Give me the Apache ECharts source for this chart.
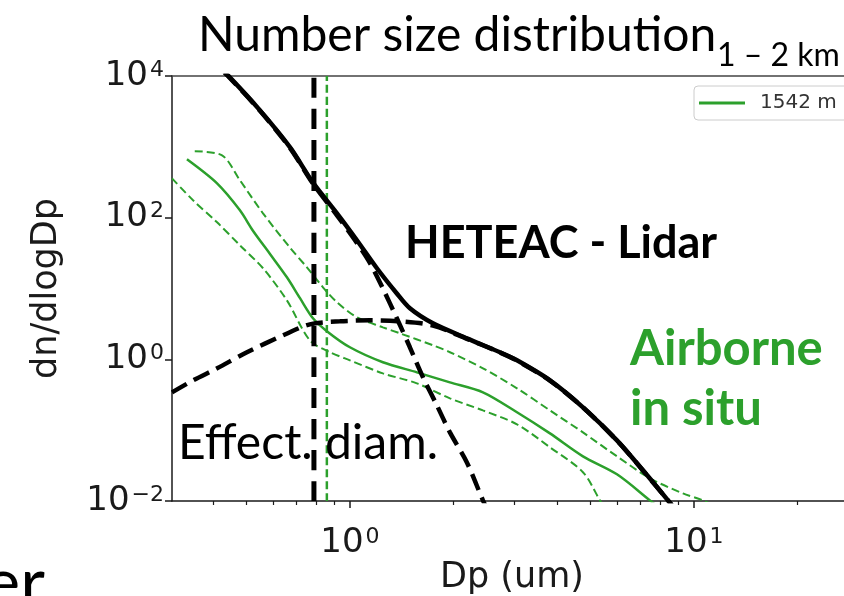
<!DOCTYPE html>
<html>
<head>
<meta charset="utf-8">
<script src="https://cdn.jsdelivr.net/npm/echarts@6/dist/echarts.min.js"></script>
<style>
  html, body { margin: 0; padding: 0; background: #ffffff; }
  #chart { width: 844px; height: 596px; }
</style>
</head>
<body>
<div id="chart"></div>
<script>
// Particle diameter Dp (um) and dn/dlogDp pairs for each curve

// Lidar-retrieved (HETEAC) total size distribution
const lidarTotalDp  = [0.304, 0.366, 0.442, 0.547, 0.67, 0.78, 0.917, 1.048, 1.198, 1.369, 1.494, 1.743, 2.188, 2.729, 3.059, 3.815, 4.757, 5.973, 7.108, 8.404, 9.1];
const lidarTotalVal = [65000, 25400, 10200, 3300, 984, 315, 115, 48, 19.3, 8.5, 5.25, 3.22, 1.98, 1.26, 0.968, 0.505, 0.21, 0.0718, 0.0271, 0.0102, 0.0063];

// Fine mode
const lidarFineDp  = [0.304, 0.366, 0.442, 0.547, 0.67, 0.78, 0.917, 1.048, 1.143, 1.247, 1.369, 1.494, 1.63, 1.79, 1.953, 2.188, 2.436, 2.553];
const lidarFineVal = [64000, 25000, 10000, 3250, 960, 305, 108, 44, 23, 10, 3.8, 1.48, 0.56, 0.224, 0.093, 0.035, 0.0102, 0.0063];

// Coarse mode
const lidarCoarseDp  = [0.304, 0.35, 0.411, 0.502, 0.639, 0.765, 0.935, 1.143, 1.397, 1.743, 2.188, 2.729, 3.059, 3.815, 4.757, 5.973, 7.108, 8.404, 9.1];
const lidarCoarseVal = [0.342, 0.505, 0.746, 1.26, 2.18, 3.12, 3.44, 3.55, 3.44, 3.0, 1.95, 1.25, 0.96, 0.5, 0.21, 0.0715, 0.027, 0.0102, 0.0063];

// Airborne in situ, 1542 m: median and spread
const insituDp  = [0.336, 0.411, 0.479, 0.522, 0.585, 0.656, 0.716, 0.781, 0.857, 1.0, 1.247, 1.566, 1.953, 2.436, 3.059, 3.815, 4.757, 5.973, 7.449, 8.24];
const insituVal = [667, 305, 127, 66, 31, 14.4, 7.3, 3.8, 2.5, 1.48, 0.91, 0.655, 0.473, 0.342, 0.179, 0.090, 0.0427, 0.0238, 0.0102, 0.0069];

const insituHighDp  = [0.354, 0.425, 0.479, 0.559, 0.669, 0.75, 0.835, 0.917, 1.048, 1.247, 1.397, 1.743, 1.953, 2.436, 3.059, 3.815, 4.757, 5.973, 7.449, 9.291, 10.62, 11.51];
const insituHighVal = [864, 759, 337, 115, 38, 19.9, 10.4, 6.4, 3.92, 2.83, 2.33, 1.58, 1.26, 0.746, 0.39, 0.19, 0.093, 0.0427, 0.0209, 0.0128, 0.0102, 0.0084];

const insituLowDp  = [0.304, 0.35, 0.411, 0.479, 0.559, 0.656, 0.765, 0.875, 1.0, 1.247, 1.566, 1.953, 2.436, 3.059, 3.815, 4.757, 5.33, 5.6];
const insituLowVal = [359, 176, 86, 40.7, 19.3, 6.8, 1.85, 1.26, 0.968, 0.634, 0.458, 0.281, 0.19, 0.121, 0.0573, 0.0255, 0.0102, 0.0068];

// Effective diameters
const effDiamLidar  = 0.786;
const effDiamInsitu = 0.857;

// Axis ranges and tick values
const xRange = [0.304, 28.8];
const yRange = [0.01, 10000];
const xMajorTicks = [1, 10];
const xMinorTicks = [0.4, 0.5, 0.6, 0.7, 0.8, 0.9, 2, 3, 4, 5, 6, 7, 8, 9, 20];
const yMajorTicks = [0.01, 1, 100, 10000];

const GREEN = '#2ca02c';
const AX = '#1a1a1a';

function pairs(xs, ys) { return xs.map((x, i) => [x, ys[i]]); }
function powLabel(v) {
  const e = Math.round(Math.log10(v));
  const s = e < 0 ? '\u2212' + (-e) : String(e);
  return '{b|10}{s|' + s + '}';
}
const richTick = {
  b: { fontFamily: 'DejaVu Sans', fontSize: 34, lineHeight: 34, color: AX },
  s: { fontFamily: 'DejaVu Sans', fontSize: 22, lineHeight: 15, color: AX, verticalAlign: 'top', padding: [0, 0, 0, 2] }
};

function lineSeries(name, data, color, width, dash, z) {
  return {
    name: name, type: 'line', data: data, xAxisIndex: 0, yAxisIndex: 0,
    symbol: 'none', showSymbol: false, smooth: 0.3, silent: true, z: z,
    lineStyle: { color: color, width: width, type: dash || 'solid', cap: 'butt' },
    itemStyle: { color: color }
  };
}

function txt(text, x, y, font, fill, align) {
  return {
    type: 'text', z: 100, silent: true,
    style: { text: text, x: x, y: y, font: font, fill: fill,
             align: align || 'left', textAlign: align || 'left',
             verticalAlign: 'middle', textVerticalAlign: 'middle' }
  };
}

const chart = echarts.init(document.getElementById('chart'), null, { renderer: 'canvas' });

chart.setOption({
  animation: false,
  backgroundColor: '#ffffff',
  grid: { left: 172, top: 76, right: -8, bottom: 95, containLabel: false, outerBoundsMode: 'none' },
  legend: {
    data: [{ name: '1542 m', icon: 'rect' }],
    left: 694, top: 86, itemWidth: 46, itemHeight: 3,
    padding: [7, 14, 7, 5], borderColor: '#cccccc', borderWidth: 1, borderRadius: 4,
    backgroundColor: '#ffffff', selectedMode: false,
    textStyle: { fontFamily: 'DejaVu Sans', fontSize: 20, color: '#333333', padding: [0, 0, 0, 10] }
  },
  xAxis: [
    {
      type: 'log', logBase: 10, min: xRange[0], max: xRange[1], position: 'bottom',
      axisLine: { show: true, onZero: false, lineStyle: { color: AX, width: 1.5 } },
      axisTick: { show: true, customValues: xMajorTicks, length: 7, lineStyle: { color: AX, width: 1.5 } },
      axisLabel: { customValues: xMajorTicks, formatter: powLabel, rich: richTick, margin: 25 },
      splitLine: { show: false },
      name: 'Dp (um)', nameLocation: 'middle', nameGap: 59, nameMoveOverlap: false,
      nameTextStyle: { fontFamily: 'DejaVu Sans', fontSize: 35, color: AX }
    },
    {
      type: 'log', logBase: 10, min: xRange[0], max: xRange[1], position: 'bottom',
      axisLine: { show: false },
      axisTick: { show: true, customValues: xMinorTicks, length: 4, lineStyle: { color: AX, width: 1.2 } },
      axisLabel: { show: false },
      splitLine: { show: false }
    },
    {
      type: 'log', logBase: 10, min: xRange[0], max: xRange[1], position: 'top',
      axisLine: { show: true, onZero: false, lineStyle: { color: '#444444', width: 1.5 } },
      axisTick: { show: false }, axisLabel: { show: false }, splitLine: { show: false }
    }
  ],
  yAxis: {
    type: 'log', logBase: 10, min: yRange[0], max: yRange[1],
    axisLine: { show: true, onZero: false, lineStyle: { color: AX, width: 1.5 } },
    axisTick: { show: true, customValues: yMajorTicks, length: 7, lineStyle: { color: AX, width: 1.5 } },
    axisLabel: { customValues: yMajorTicks, formatter: powLabel, rich: richTick, margin: 8 },
    splitLine: { show: false },
    name: 'dn/dlogDp', nameLocation: 'middle', nameGap: 108, nameRotate: 90, nameMoveOverlap: false,
    nameTextStyle: { fontFamily: 'DejaVu Sans', fontSize: 35, color: AX }
  },
  series: [
    lineSeries('insitu-low', pairs(insituLowDp, insituLowVal), GREEN, 2, [8, 4], 2),
    lineSeries('insitu-high', pairs(insituHighDp, insituHighVal), GREEN, 2, [8, 4], 2),
    lineSeries('1542 m', pairs(insituDp, insituVal), GREEN, 2.5, 'solid', 3),
    lineSeries('insitu-deff', [[effDiamInsitu, yRange[0]], [effDiamInsitu, yRange[1]]], GREEN, 2.5, [8, 4], 3),
    lineSeries('lidar-fine', pairs(lidarFineDp, lidarFineVal), '#000000', 4.5, [17, 8], 4),
    lineSeries('lidar-coarse', pairs(lidarCoarseDp, lidarCoarseVal), '#000000', 4.5, [17, 8], 4),
    lineSeries('lidar-total', pairs(lidarTotalDp, lidarTotalVal), '#000000', 4.5, 'solid', 5),
    lineSeries('lidar-deff', [[effDiamLidar, yRange[0]], [effDiamLidar, yRange[1]]], '#000000', 5, [20, 11], 5)
  ],
  graphic: [
    txt('Number size distribution', 198, 36, '48px Lato', '#000000'),
    txt('1 \u2013 2 km', 717, 56, '32px Lato', '#000000'),
    txt('HETEAC - Lidar', 405, 243, 'bold 45px Lato', '#000000'),
    txt('Airborne', 630, 349, 'bold 49px Lato', GREEN),
    txt('in situ', 630, 409, 'bold 49px Lato', GREEN),
    txt('Effect. diam.', 178, 444, '48px Lato', '#000000'),
    txt('er', 45, 584, '68px Lato', '#000000', 'right')
  ]
});
</script>
</body>
</html>
